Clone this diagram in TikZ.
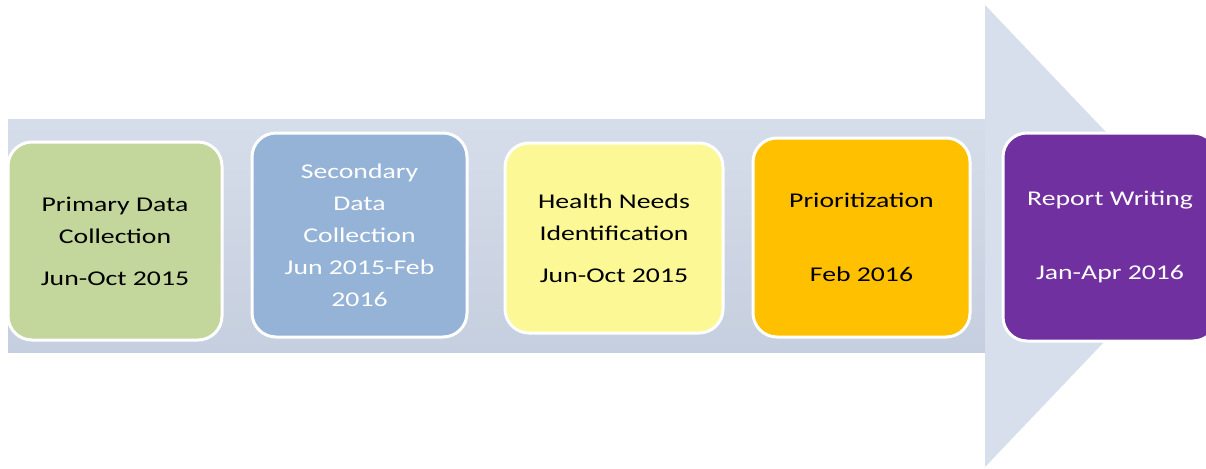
\documentclass[tikz,border=0pt]{standalone}
\usepackage{fontspec}
\setmainfont{Carlito}[FakeStretch=1.32]
\definecolor{bodytop}{RGB}{214,221,234}
\definecolor{bodybot}{RGB}{198,207,223}
\definecolor{headfill}{RGB}{216,223,236}
\definecolor{greenfill}{RGB}{195,214,155}
\definecolor{bluefill}{RGB}{149,179,215}
\definecolor{yellowfill}{RGB}{252,248,150}
\definecolor{orangefill}{RGB}{255,192,0}
\definecolor{purplefill}{RGB}{112,48,160}

\begin{document}
\begin{tikzpicture}[x=1pt,y=-1pt,
    box node/.style={draw=white,line width=3pt,rounded corners=24pt,align=center,
      inner sep=0pt,font=\fontsize{21}{32}\selectfont}]
  \useasboundingbox (0,0) rectangle (1206,468);

  % big arrow
  \shade[top color=bodytop,bottom color=bodybot] (8,120) rectangle (985,352);
  \fill[headfill] (985,5) -- (1205,236) -- (985,467) -- cycle;

  \node[box node,fill=greenfill,minimum width=214pt,minimum height=198pt] (1) at (115,241)
    {Primary Data\\Collection\\[10pt]Jun-Oct 2015};
  \node[box node,fill=bluefill,text=white,minimum width=215pt,minimum height=204pt] (2) at (359.5,235)
    {Secondary\\Data\\Collection\\Jun 2015-Feb\\2016};
  \node[box node,fill=yellowfill,minimum width=218pt,minimum height=190pt] (3) at (614,238)
    {Health Needs\\Identification\\[10pt]Jun-Oct 2015};
  \node[box node,fill=orangefill,minimum width=217pt,minimum height=199pt] (4) at (861.5,237.5)
    {Prioritization\\[42pt]Feb 2016};
  \node[box node,fill=purplefill,text=white,minimum width=214pt,minimum height=208pt] (5) at (1110,237)
    {Report Writing\\[42pt]Jan-Apr 2016};

\end{tikzpicture}
\end{document}
